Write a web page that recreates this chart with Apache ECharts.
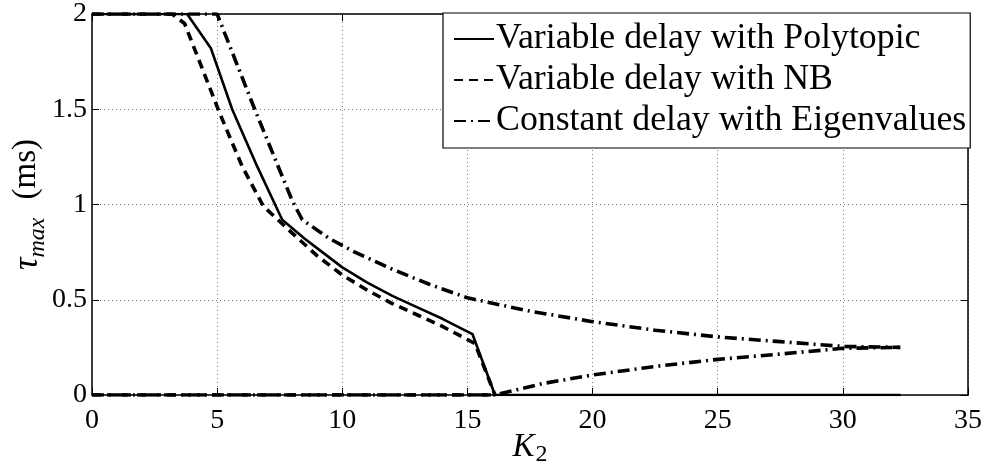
<!DOCTYPE html>
<html><head><meta charset="utf-8">
<script src="https://cdn.jsdelivr.net/npm/echarts@6/dist/echarts.min.js"></script>
<style>html,body{margin:0;padding:0;background:#fff}#c{width:987px;height:465px}</style>
</head><body><div id="c"></div>
<script>
// ---- data ----
var seriesNames = ['Variable delay with Polytopic', 'Variable delay with NB', 'Constant delay with Eigenvalues'];
var polyX = [0, 3.8, 4.75, 5.6, 6.6, 7.6, 8.5, 9.2, 10, 11, 12, 13, 14, 15.2, 16.1, 32.3];
var polyY = [2, 2, 1.82, 1.5, 1.2, 0.92, 0.82, 0.75, 0.67, 0.59, 0.52, 0.46, 0.40, 0.32, 0, 0];
var nbX = [0, 3.2, 3.7, 5.1, 6.0, 6.85, 8, 9, 10, 11, 12, 13, 14, 15.3, 16.1];
var nbY = [2, 2, 1.95, 1.48, 1.2, 0.99, 0.85, 0.73, 0.63, 0.55, 0.48, 0.42, 0.36, 0.27, 0];
var nbLowX = [0, 16.1];
var nbLowY = [0, 0];
var eigUpX = [0, 5.0, 6.5, 8.0, 8.4, 9.5, 10.5, 12, 13.5, 15, 17.5, 20, 22.5, 25, 27.5, 30, 32.3];
var eigUpY = [2, 2, 1.5, 1.02, 0.92, 0.82, 0.75, 0.66, 0.58, 0.51, 0.44, 0.385, 0.34, 0.305, 0.28, 0.255, 0.25];
var eigLowX = [0, 16.1, 18, 20, 22.5, 25, 27.5, 30, 32.3];
var eigLowY = [0, 0, 0.06, 0.105, 0.15, 0.187, 0.215, 0.245, 0.25];
var xTicks = [0, 5, 10, 15, 20, 25, 30, 35];
var yTicks = [0, 0.5, 1, 1.5, 2];

function pairs(xs, ys) { return xs.map(function (x, i) { return [x, ys[i]]; }); }

var FONT = '"Liberation Serif", "Times New Roman", "DejaVu Serif", serif';
var solid = { color: '#000', width: 2.6, type: 'solid' };
var dashed = { color: '#000', width: 3.6, type: [9, 6] };
var dashdot = { color: '#000', width: 3.6, type: [12, 5, 2, 5] };

var chart = echarts.init(document.getElementById('c'), null, { renderer: 'canvas' });
var gridLine = { show: true, lineStyle: { color: '#777', width: 1, type: [1, 3] } };
chart.setOption({
  animation: false,
  backgroundColor: '#fff',
  grid: { left: 92, right: 19, top: 14, bottom: 70, show: false, containLabel: false, outerBoundsMode: 'none' },
  legend: {
    data: seriesNames,
    orient: 'vertical',
    left: 443, top: 13,
    backgroundColor: '#fff',
    borderColor: '#000', borderWidth: 1.2, borderRadius: 0,
    padding: [7, 4, 8, 10],
    itemGap: 3,
    itemWidth: 40, itemHeight: 14,
    itemStyle: { opacity: 0 },
    textStyle: { fontFamily: FONT, fontSize: 35.8, lineHeight: 38, color: '#000', padding: [0, 0, 0, -3] }
  },
  xAxis: [{
    type: 'value', min: 0, max: 35, interval: 5,
    name: '{k|K}{s|2}', nameLocation: 'middle', nameGap: 36, nameMoveOverlap: false,
    nameTextStyle: { rich: {
      k: { fontFamily: FONT, fontStyle: 'italic', fontSize: 33, lineHeight: 34, verticalAlign: 'top', color: '#000' },
      s: { fontFamily: FONT, fontSize: 24, lineHeight: 24, verticalAlign: 'top', color: '#000', padding: [12, 0, 0, 1] }
    } },
    axisLine: { show: true, onZero: false, lineStyle: { color: '#000', width: 1.5 } },
    axisTick: { show: true, inside: true, length: 7, lineStyle: { color: '#000' } },
    axisLabel: { fontFamily: FONT, fontSize: 28, color: '#000', margin: 12,
      formatter: function (v) { return xTicks.indexOf(v) >= 0 ? String(v) : ''; } },
    splitLine: gridLine
  }, {
    type: 'value', min: 0, max: 35, interval: 5, position: 'top',
    axisLine: { show: true, onZero: false, lineStyle: { color: '#000', width: 1.5 } },
    axisTick: { show: true, inside: true, length: 7, lineStyle: { color: '#000' } },
    axisLabel: { show: false }, splitLine: { show: false }
  }],
  yAxis: [{
    type: 'value', min: 0, max: 2, interval: 0.5,
    name: '{t|τ}{s|max}{g| }{n|(ms)}', nameLocation: 'middle', nameGap: 46, nameRotate: 90, nameMoveOverlap: false,
    nameTextStyle: { rich: {
      t: { fontFamily: FONT, fontStyle: 'italic', fontSize: 35, lineHeight: 36, verticalAlign: 'top', color: '#000' },
      s: { fontFamily: FONT, fontStyle: 'italic', fontSize: 24, lineHeight: 24, verticalAlign: 'top', color: '#000', padding: [16, 0, 0, 0] },
      g: { fontSize: 30, lineHeight: 36, verticalAlign: 'top', width: 18 },
      n: { fontFamily: FONT, fontSize: 33, lineHeight: 36, verticalAlign: 'top', color: '#000' }
    } },
    axisLine: { show: true, onZero: false, lineStyle: { color: '#000', width: 1.5 } },
    axisTick: { show: true, inside: true, length: 7, lineStyle: { color: '#000' } },
    axisLabel: { fontFamily: FONT, fontSize: 28, color: '#000', margin: 5,
      formatter: function (v) { return yTicks.indexOf(v) >= 0 ? String(v) : ''; } },
    splitLine: gridLine
  }, {
    type: 'value', min: 0, max: 2, interval: 0.5, position: 'right',
    axisLine: { show: true, onZero: false, lineStyle: { color: '#000', width: 1.5 } },
    axisTick: { show: true, inside: true, length: 7, lineStyle: { color: '#000' } },
    axisLabel: { show: false }, splitLine: { show: false }
  }],
  series: [
    { name: seriesNames[0], type: 'line', symbol: 'none', data: pairs(polyX, polyY), lineStyle: solid, itemStyle: { color: '#000' }, z: 5 },
    { name: seriesNames[1], type: 'line', symbol: 'none', data: pairs(nbX, nbY), lineStyle: dashed, itemStyle: { color: '#000' }, z: 4 },
    { name: seriesNames[2], type: 'line', symbol: 'none', data: pairs(eigUpX, eigUpY), lineStyle: dashdot, itemStyle: { color: '#000' }, z: 3 },
    { name: 'NB lower', type: 'line', symbol: 'none', data: pairs(nbLowX, nbLowY), lineStyle: dashed, itemStyle: { color: '#000' }, z: 4 },
    { name: 'Eigen lower', type: 'line', symbol: 'none', data: pairs(eigLowX, eigLowY), lineStyle: dashdot, itemStyle: { color: '#000' }, z: 3 }
  ]
});
</script>
</body></html>
